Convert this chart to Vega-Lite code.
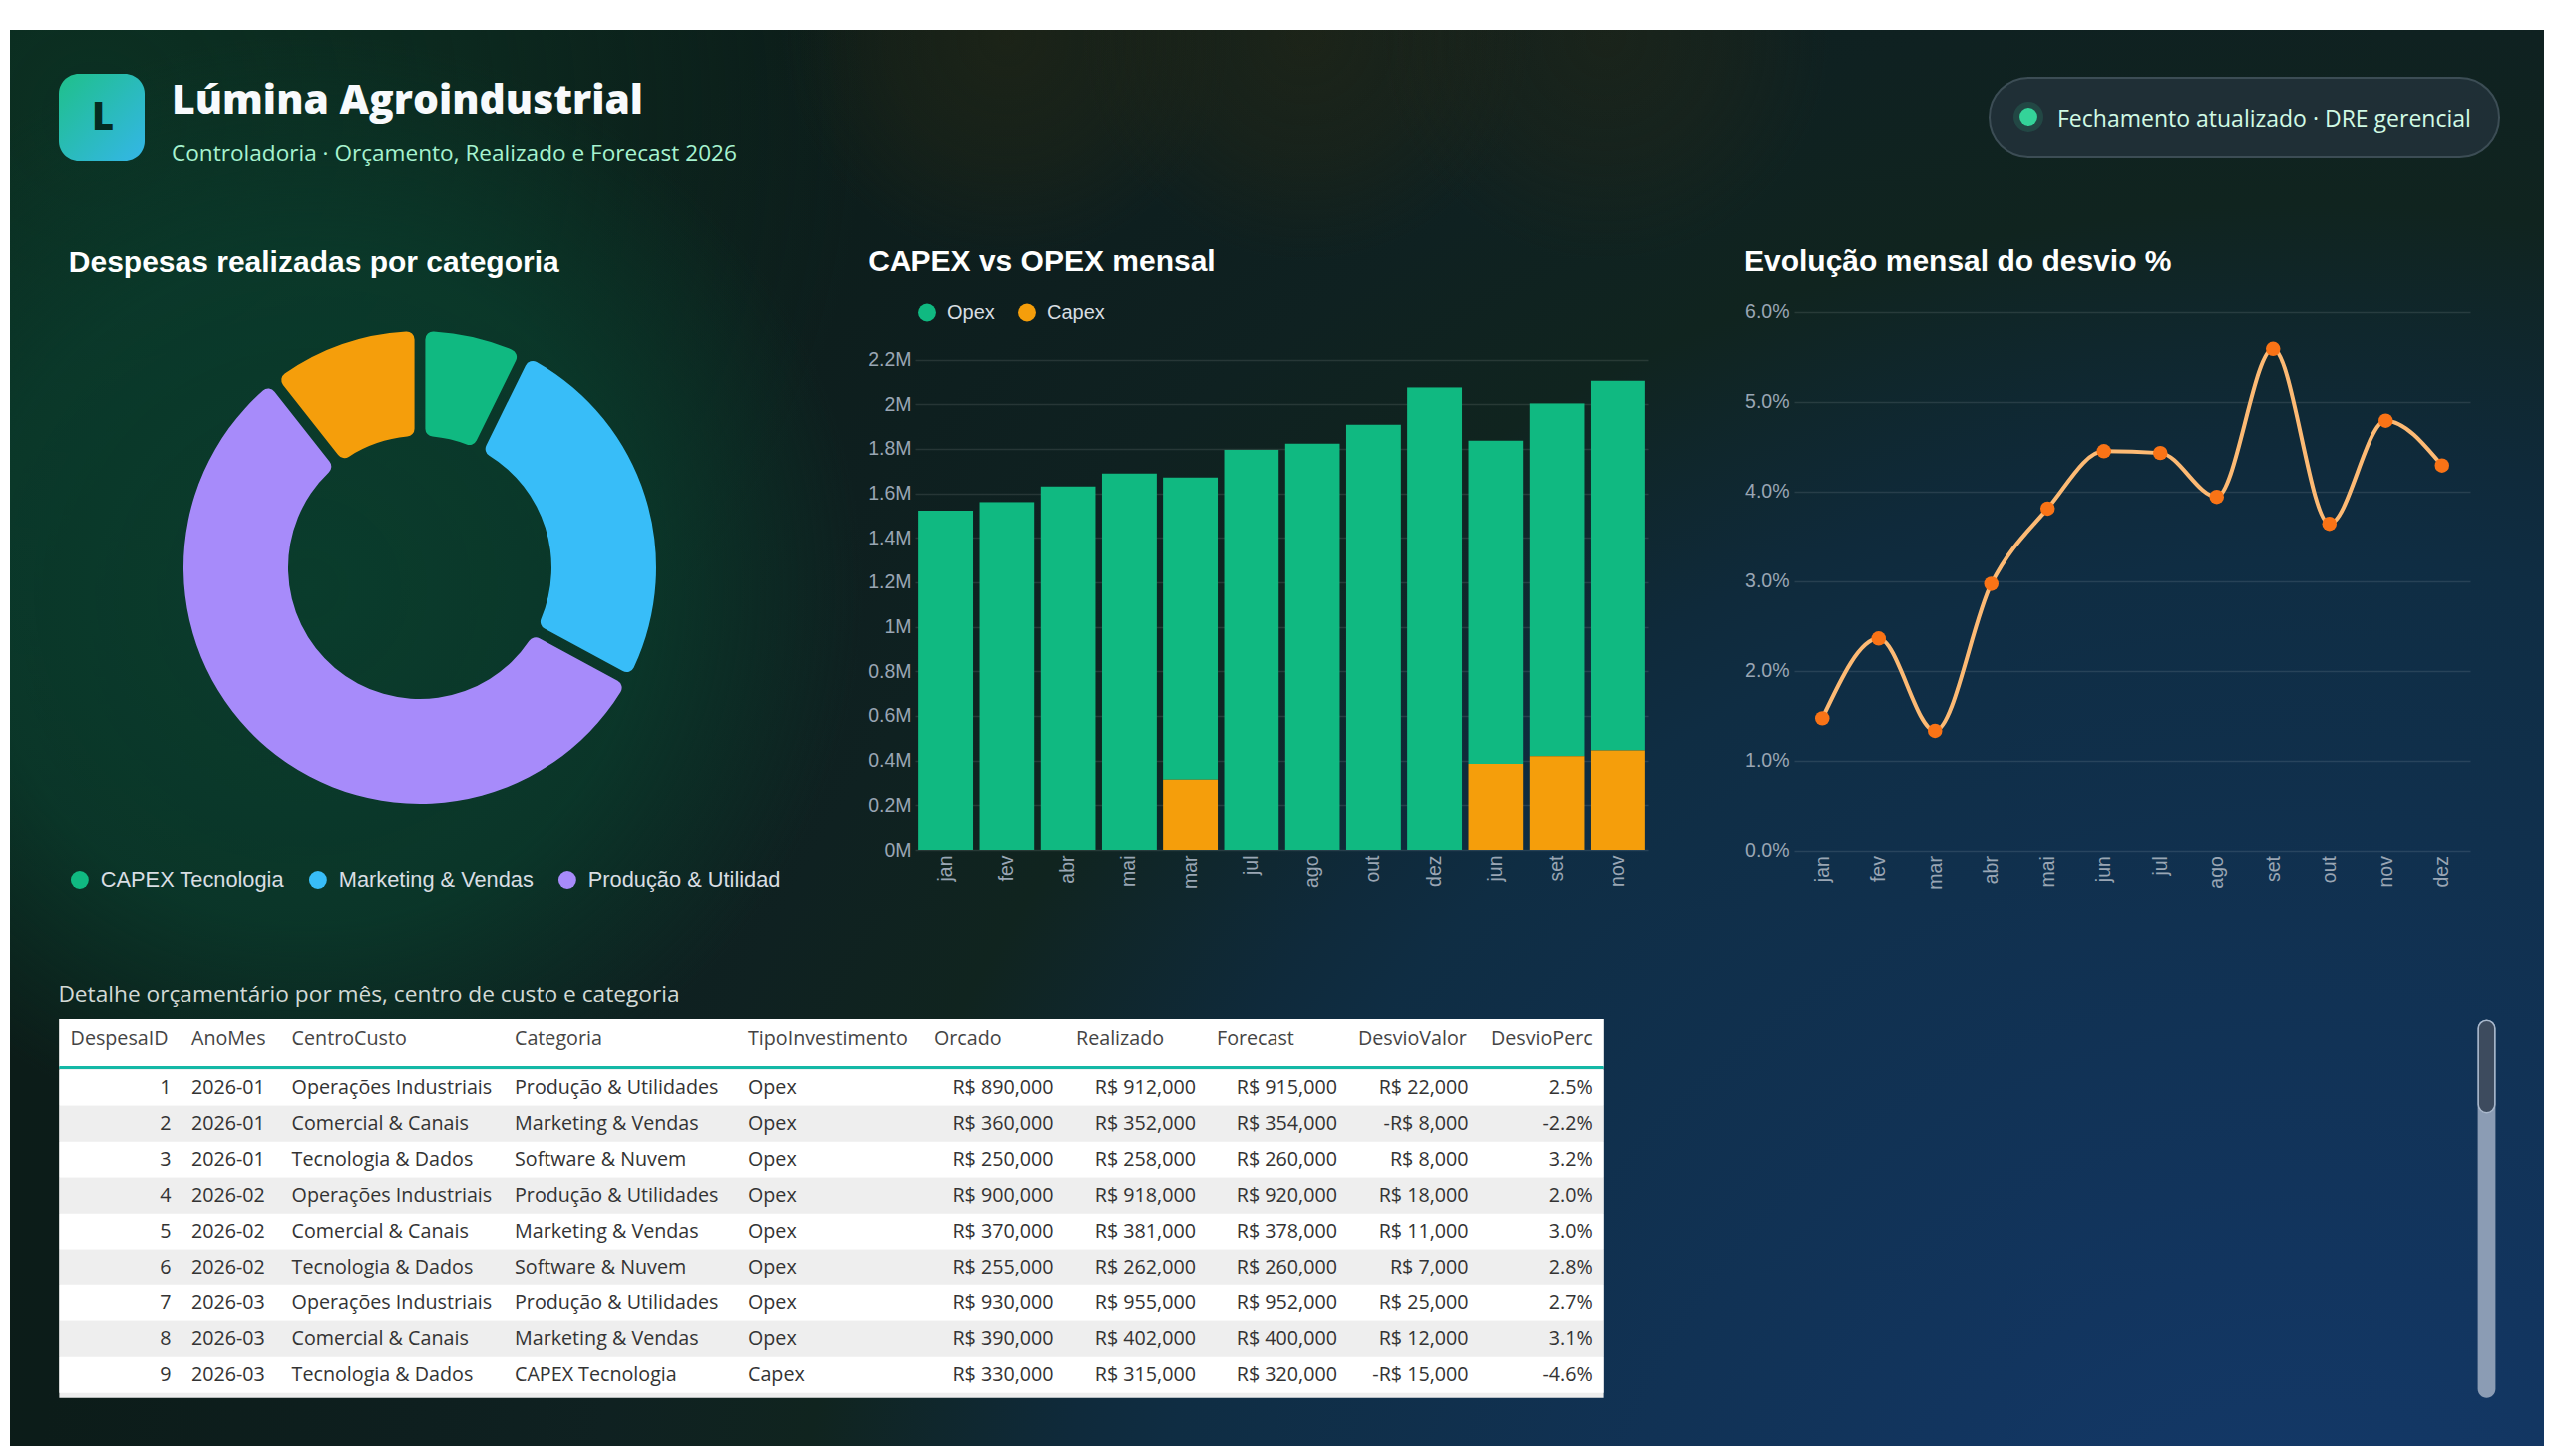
{
  "$schema": "https://vega.github.io/schema/vega-lite/v6.json",
  "width": 2541,
  "height": 1420,
  "padding": {"left": 10, "top": 30, "right": 9, "bottom": 10},
  "autosize": {"type": "none"},
  "background": "#ffffff",
  "view": {"stroke": null, "fill": {"gradient": "radial", "x1": 0.905, "y1": 0.8896, "r1": 0, "x2": 0.905, "y2": 0.8896, "r2": 1.0, "stops": [
    {"offset": 0, "color": "#153c70"},
    {"offset": 0.18, "color": "#12355f"},
    {"offset": 0.46, "color": "#0f2d43"},
    {"offset": 0.5, "color": "#0f2a3b"},
    {"offset": 0.6, "color": "#10241f"},
    {"offset": 0.68, "color": "#0f2121"},
    {"offset": 0.75, "color": "#0e1f1f"},
    {"offset": 0.9, "color": "#0c1c19"},
    {"offset": 1, "color": "#0c1c18"}]}},
  "config": {"locale": {"number": {"decimal": ".", "thousands": ",", "grouping": [3], "currency": ["R$ ", ""], "minus": "-"}}},
  "datasets": {
    "donut": [
      {"categoria": "CAPEX Tecnologia", "realizado": 1575000},
      {"categoria": "Marketing & Vendas", "realizado": 5530000},
      {"categoria": "Produção & Utilidades", "realizado": 12200000},
      {"categoria": "Software & Nuvem", "realizado": 2290000}
    ],
    "bars": [
      {"mes": "jan", "tipo": "Opex", "valor": 1522000},
      {"mes": "fev", "tipo": "Opex", "valor": 1561000},
      {"mes": "abr", "tipo": "Opex", "valor": 1632000},
      {"mes": "mai", "tipo": "Opex", "valor": 1690000},
      {"mes": "mar", "tipo": "Opex", "valor": 1357000},
      {"mes": "mar", "tipo": "Capex", "valor": 315000},
      {"mes": "jul", "tipo": "Opex", "valor": 1796000},
      {"mes": "ago", "tipo": "Opex", "valor": 1824000},
      {"mes": "out", "tipo": "Opex", "valor": 1910000},
      {"mes": "dez", "tipo": "Opex", "valor": 2076000},
      {"mes": "jun", "tipo": "Opex", "valor": 1453000},
      {"mes": "jun", "tipo": "Capex", "valor": 385000},
      {"mes": "set", "tipo": "Opex", "valor": 1585000},
      {"mes": "set", "tipo": "Capex", "valor": 420000},
      {"mes": "nov", "tipo": "Opex", "valor": 1661000},
      {"mes": "nov", "tipo": "Capex", "valor": 445000}
    ],
    "desvio": [
      {"mes": "jan", "perc": 0.0147},
      {"mes": "fev", "perc": 0.0236},
      {"mes": "mar", "perc": 0.0133},
      {"mes": "abr", "perc": 0.0297},
      {"mes": "mai", "perc": 0.0381},
      {"mes": "jun", "perc": 0.0445},
      {"mes": "jul", "perc": 0.0443},
      {"mes": "ago", "perc": 0.0394},
      {"mes": "set", "perc": 0.0559},
      {"mes": "out", "perc": 0.0364},
      {"mes": "nov", "perc": 0.0479},
      {"mes": "dez", "perc": 0.0429}
    ],
    "tabela": [
      {"DespesaID": 1, "AnoMes": "2026-01", "CentroCusto": "Operações Industriais", "Categoria": "Produção & Utilidades", "TipoInvestimento": "Opex", "Orcado": 890000, "Realizado": 912000, "Forecast": 915000, "DesvioValor": 22000, "DesvioPerc": 0.025},
      {"DespesaID": 2, "AnoMes": "2026-01", "CentroCusto": "Comercial & Canais", "Categoria": "Marketing & Vendas", "TipoInvestimento": "Opex", "Orcado": 360000, "Realizado": 352000, "Forecast": 354000, "DesvioValor": -8000, "DesvioPerc": -0.022},
      {"DespesaID": 3, "AnoMes": "2026-01", "CentroCusto": "Tecnologia & Dados", "Categoria": "Software & Nuvem", "TipoInvestimento": "Opex", "Orcado": 250000, "Realizado": 258000, "Forecast": 260000, "DesvioValor": 8000, "DesvioPerc": 0.032},
      {"DespesaID": 4, "AnoMes": "2026-02", "CentroCusto": "Operações Industriais", "Categoria": "Produção & Utilidades", "TipoInvestimento": "Opex", "Orcado": 900000, "Realizado": 918000, "Forecast": 920000, "DesvioValor": 18000, "DesvioPerc": 0.020},
      {"DespesaID": 5, "AnoMes": "2026-02", "CentroCusto": "Comercial & Canais", "Categoria": "Marketing & Vendas", "TipoInvestimento": "Opex", "Orcado": 370000, "Realizado": 381000, "Forecast": 378000, "DesvioValor": 11000, "DesvioPerc": 0.030},
      {"DespesaID": 6, "AnoMes": "2026-02", "CentroCusto": "Tecnologia & Dados", "Categoria": "Software & Nuvem", "TipoInvestimento": "Opex", "Orcado": 255000, "Realizado": 262000, "Forecast": 260000, "DesvioValor": 7000, "DesvioPerc": 0.028},
      {"DespesaID": 7, "AnoMes": "2026-03", "CentroCusto": "Operações Industriais", "Categoria": "Produção & Utilidades", "TipoInvestimento": "Opex", "Orcado": 930000, "Realizado": 955000, "Forecast": 952000, "DesvioValor": 25000, "DesvioPerc": 0.027},
      {"DespesaID": 8, "AnoMes": "2026-03", "CentroCusto": "Comercial & Canais", "Categoria": "Marketing & Vendas", "TipoInvestimento": "Opex", "Orcado": 390000, "Realizado": 402000, "Forecast": 400000, "DesvioValor": 12000, "DesvioPerc": 0.031},
      {"DespesaID": 9, "AnoMes": "2026-03", "CentroCusto": "Tecnologia & Dados", "Categoria": "CAPEX Tecnologia", "TipoInvestimento": "Capex", "Orcado": 330000, "Realizado": 315000, "Forecast": 320000, "DesvioValor": -15000, "DesvioPerc": -0.046}
    ]
  },
  "resolve": {
    "scale": {"x": "independent", "y": "independent", "color": "independent", "theta": "independent"},
    "axis": {"x": "independent", "y": "independent"},
    "legend": {"color": "independent"}
  },
  "layer": [
    {"data": {"values": [{}]}, "mark": {"type": "rect", "color": {"gradient": "radial", "x1": 0.1, "y1": 0.1, "r1": 0, "x2": 0.1, "y2": 0.1, "r2": 0.9, "stops": [
        {"offset": 0, "color": "rgba(11,52,36,0.85)"}, {"offset": 0.5, "color": "rgba(11,52,36,0.5)"}, {"offset": 1, "color": "rgba(11,52,36,0)"}]}},
     "encoding": {"x": {"value": 0}, "x2": {"value": 855}, "y": {"value": 0}, "y2": {"value": 855}}},
    {"data": {"values": [{}]}, "mark": {"type": "rect", "color": {"gradient": "radial", "x1": 0.402, "y1": 0.431, "r1": 0, "x2": 0.402, "y2": 0.431, "r2": 0.427, "stops": [
        {"offset": 0, "color": "rgba(10,60,44,1)"}, {"offset": 0.6, "color": "rgba(10,58,43,0.85)"}, {"offset": 1, "color": "rgba(10,58,43,0)"}]}},
     "encoding": {"x": {"value": 0}, "x2": {"value": 855}, "y": {"value": 0}, "y2": {"value": 1300}}},
    {"data": {"values": [{}]}, "mark": {"type": "rect", "color": {"gradient": "radial", "x1": 0.5, "y1": 0.25, "r1": 0, "x2": 0.5, "y2": 0.25, "r2": 0.5, "stops": [
        {"offset": 0, "color": "rgba(40,40,20,0.55)"}, {"offset": 0.4, "color": "rgba(40,40,20,0.35)"}, {"offset": 0.75, "color": "rgba(40,40,20,0)"}]}},
     "encoding": {"x": {"value": 700}, "x2": {"value": 1300}, "y": {"value": 0}, "y2": {"value": 315}}},
    {"data": {"values": [{}]}, "mark": {"type": "rect", "color": {"gradient": "radial", "x1": 0.5, "y1": 0.25, "r1": 0, "x2": 0.5, "y2": 0.25, "r2": 0.5, "stops": [
        {"offset": 0, "color": "rgba(40,40,20,0.55)"}, {"offset": 0.4, "color": "rgba(40,40,20,0.35)"}, {"offset": 0.75, "color": "rgba(40,40,20,0)"}]}},
     "encoding": {"x": {"value": 1000}, "x2": {"value": 1600}, "y": {"value": 0}, "y2": {"value": 315}}},
    {"data": {"values": [{}]}, "mark": {"type": "rect", "color": {"gradient": "radial", "x1": 0.5, "y1": 0.25, "r1": 0, "x2": 0.5, "y2": 0.25, "r2": 0.5, "stops": [
        {"offset": 0, "color": "rgba(40,40,20,0.45)"}, {"offset": 0.4, "color": "rgba(40,40,20,0.28)"}, {"offset": 0.75, "color": "rgba(40,40,20,0)"}]}},
     "encoding": {"x": {"value": 1300}, "x2": {"value": 1900}, "y": {"value": 0}, "y2": {"value": 315}}},
    {"data": {"values": [{}]}, "mark": {"type": "rect", "cornerRadius": 20, "color": {"gradient": "linear", "x1": 0, "y1": 0, "x2": 1, "y2": 1, "stops": [{"offset": 0, "color": "#1fc08a"}, {"offset": 1, "color": "#34b6e8"}]}},
     "encoding": {"x": {"value": 49}, "x2": {"value": 135}, "y": {"value": 44}, "y2": {"value": 131}}},
    {"data": {"values": [{}]}, "mark": {"type": "text", "text": "L", "font": "Open Sans", "fontWeight": 800, "fontSize": 38, "color": "#052b20", "align": "center", "baseline": "middle"},
     "encoding": {"x": {"value": 93}, "y": {"value": 89}}},
    {"data": {"values": [{}]}, "mark": {"type": "text", "text": "Lúmina Agroindustrial", "font": "Open Sans", "fontWeight": 800, "fontSize": 40.8, "color": "#f8fafc", "align": "left", "baseline": "alphabetic"},
     "encoding": {"x": {"value": 162}, "y": {"value": 84}}},
    {"data": {"values": [{}]}, "mark": {"type": "text", "text": "Controladoria · Orçamento, Realizado e Forecast 2026", "font": "Open Sans", "fontSize": 22.6, "color": "#a7f3d0", "align": "left", "baseline": "alphabetic"},
     "encoding": {"x": {"value": 162}, "y": {"value": 131}}},
    {"data": {"values": [{}]}, "mark": {"type": "rect", "cornerRadius": 39.5, "color": "#1f2f36", "stroke": "#3c4d55", "strokeWidth": 2},
     "encoding": {"x": {"value": 1985}, "x2": {"value": 2496}, "y": {"value": 48}, "y2": {"value": 127}}},
    {"data": {"values": [{}]}, "mark": {"type": "point", "filled": true, "size": 900, "color": "#34d399", "opacity": 0.15},
     "encoding": {"x": {"value": 2024}, "y": {"value": 87}}},
    {"data": {"values": [{}]}, "mark": {"type": "point", "filled": true, "size": 320, "color": "#34d399", "opacity": 1},
     "encoding": {"x": {"value": 2024}, "y": {"value": 87}}},
    {"data": {"values": [{}]}, "mark": {"type": "text", "text": "Fechamento atualizado · DRE gerencial", "font": "Open Sans", "fontSize": 23, "color": "#d1fae5", "align": "left", "baseline": "middle"},
     "encoding": {"x": {"value": 2053}, "y": {"value": 90}}},
    {"data": {"values": [{}]}, "mark": {"type": "text", "text": "Despesas realizadas por categoria", "font": "Liberation Sans", "fontWeight": "bold", "fontSize": 30, "color": "#ffffff", "align": "left", "baseline": "alphabetic"},
     "encoding": {"x": {"value": 58.8}, "y": {"value": 242.5}}},
    {"data": {"values": [{}]}, "mark": {"type": "text", "text": "CAPEX vs OPEX mensal", "font": "Liberation Sans", "fontWeight": "bold", "fontSize": 30, "color": "#ffffff", "align": "left", "baseline": "alphabetic"},
     "encoding": {"x": {"value": 860.2}, "y": {"value": 242.2}}},
    {"data": {"values": [{}]}, "mark": {"type": "text", "text": "Evolução mensal do desvio %", "font": "Liberation Sans", "fontWeight": "bold", "fontSize": 30, "color": "#ffffff", "align": "left", "baseline": "alphabetic"},
     "encoding": {"x": {"value": 1739}, "y": {"value": 242.2}}},
    {"data": {"name": "donut"},
     "mark": {"type": "arc", "radius": 237, "innerRadius": 132, "padAngle": 0.04, "cornerRadius": 8},
     "encoding": {
       "theta": {"field": "realizado", "type": "quantitative", "stack": true},
       "color": {"field": "categoria", "type": "nominal",
         "scale": {"domain": ["CAPEX Tecnologia", "Marketing & Vendas", "Produção & Utilidades", "Software & Nuvem"], "range": ["#10b981", "#38bdf8", "#a78bfa", "#f59e0b"]},
         "legend": {"title": null, "orient": "none", "legendX": 59, "legendY": 841, "direction": "horizontal",
           "values": ["CAPEX Tecnologia", "Marketing & Vendas", "Produção & Utilidades"],
           "labelExpr": "datum.label == 'Produção & Utilidades' ? 'Produção & Utilidad' : datum.label",
           "symbolType": "circle", "symbolSize": 320, "symbolStrokeWidth": 0,
           "labelFont": "Liberation Sans", "labelFontSize": 21.8, "labelColor": "#d9dee3", "columnPadding": 23, "labelOffset": 10, "labelLimit": 400}},
       "x": {"value": 411}, "y": {"value": 539}
     }},
    {"data": {"name": "bars"},
     "mark": {"type": "bar", "cornerRadiusTopLeft": {"expr": "datum.tipo == 'Opex' ? 5 : 0"}, "cornerRadiusTopRight": {"expr": "datum.tipo == 'Opex' ? 5 : 0"}},
     "encoding": {
       "x": {"field": "mes", "type": "nominal", "sort": ["jan", "fev", "abr", "mai", "mar", "jul", "ago", "out", "dez", "jun", "set", "nov"],
         "scale": {"type": "band", "range": [908, 1643], "paddingInner": 0.1, "paddingOuter": 0.05},
         "axis": {"orient": "bottom", "offset": -598, "title": null, "labelAngle": -90, "domain": false, "ticks": false, "grid": false, "labelPadding": 5,
           "labelFont": "Liberation Sans", "labelFontSize": 19.5, "labelColor": "#9aa6b4"}},
       "y": {"field": "valor", "type": "quantitative", "stack": "zero",
         "scale": {"domain": [0, 2200000], "range": [822, 330.6], "nice": false, "zero": true},
         "axis": {"orient": "left", "offset": -908, "title": null, "domain": false, "ticks": false, "grid": true, "gridColor": "#ffffff", "gridOpacity": 0.1, "gridWidth": 1.5,
           "values": [0, 200000, 400000, 600000, 800000, 1000000, 1200000, 1400000, 1600000, 1800000, 2000000, 2200000],
           "labelExpr": "datum.value / 1000000 + 'M'", "labelPadding": 5,
           "labelFont": "Liberation Sans", "labelFontSize": 19.5, "labelColor": "#9aa6b4"}},
       "color": {"field": "tipo", "type": "nominal",
         "scale": {"domain": ["Opex", "Capex"], "range": ["#10b981", "#f59e0b"]},
         "legend": {"title": null, "orient": "none", "legendX": 910, "legendY": 273.5, "direction": "horizontal",
           "symbolType": "circle", "symbolSize": 320, "symbolStrokeWidth": 0,
           "labelFont": "Liberation Sans", "labelFontSize": 20, "labelColor": "#d9dee3", "columnPadding": 22, "labelOffset": 10}},
       "order": {"field": "tipo", "type": "nominal", "sort": "ascending"}
     }},
    {"data": {"name": "desvio"},
     "encoding": {
       "x": {"field": "mes", "type": "nominal", "sort": ["jan", "fev", "mar", "abr", "mai", "jun", "jul", "ago", "set", "out", "nov", "dez"],
         "scale": {"type": "point", "range": [1789, 2467], "padding": 0.5},
         "axis": {"orient": "bottom", "offset": -597.4, "title": null, "labelAngle": -90, "domain": false, "ticks": false, "grid": false, "labelPadding": 5,
           "labelFont": "Liberation Sans", "labelFontSize": 19.5, "labelColor": "#9aa6b4"}},
       "y": {"field": "perc", "type": "quantitative",
         "scale": {"domain": [0, 0.06], "range": [822.6, 282.9], "nice": false, "zero": true},
         "axis": {"orient": "left", "offset": -1789, "title": null, "domain": false, "ticks": false, "grid": true, "gridColor": "#ffffff", "gridOpacity": 0.1, "gridWidth": 1.5,
           "values": [0, 0.01, 0.02, 0.03, 0.04, 0.05, 0.06], "format": ".1%", "labelPadding": 5,
           "labelFont": "Liberation Sans", "labelFontSize": 19.5, "labelColor": "#9aa6b4"}}
     },
     "layer": [
       {"mark": {"type": "line", "interpolate": "monotone", "color": "#fdba74", "strokeWidth": 4}},
       {"mark": {"type": "point", "filled": true, "color": "#f97316", "size": 210, "opacity": 1}}
     ]},
    {"data": {"values": [{}]}, "mark": {"type": "text", "text": "Detalhe orçamentário por mês, centro de custo e categoria", "font": "Open Sans", "fontSize": 22.7, "color": "#d3dad6", "align": "left", "baseline": "alphabetic"},
     "encoding": {"x": {"value": 48.4}, "y": {"value": 975}}},
    {"data": {"name": "tabela"},
     "encoding": {"y": {"field": "DespesaID", "type": "ordinal", "scale": {"range": [1042.7, 1366.7], "paddingInner": 0, "paddingOuter": 0}, "axis": null}},
     "layer": [
       {"data": {"values": [{}]}, "mark": {"type": "rect", "color": "#eeeeee"},
        "encoding": {"x": {"value": 49.4}, "x2": {"value": 1597.6}, "y": {"value": 992}, "y2": {"value": 1371.7}}},
       {"data": {"values": [{}]}, "mark": {"type": "rect", "color": "#ffffff"},
        "encoding": {"x": {"value": 49.4}, "x2": {"value": 1597.6}, "y": {"value": 992}, "y2": {"value": 1040}}},
       {"mark": {"type": "rect"},
        "encoding": {"x": {"value": 49.4}, "x2": {"value": 1597.6},
          "color": {"condition": {"test": "datum.DespesaID % 2 == 1", "value": "#ffffff"}, "value": "#eeeeee"}}},
       {"data": {"values": [{}]}, "mark": {"type": "rule", "color": "#14b8a6", "strokeWidth": 3},
        "encoding": {"x": {"value": 49.4}, "x2": {"value": 1597.6}, "y": {"value": 1040.5}}},
       {"data": {"values": [{}]}, "mark": {"type": "text", "text": "DespesaID", "font": "Open Sans", "fontSize": 19.7, "color": "#444444", "align": "left", "baseline": "middle"}, "encoding": {"x": {"value": 60.6}, "y": {"value": 1011.7}}},
       {"data": {"values": [{}]}, "mark": {"type": "text", "text": "AnoMes", "font": "Open Sans", "fontSize": 19.7, "color": "#444444", "align": "left", "baseline": "middle"}, "encoding": {"x": {"value": 182}, "y": {"value": 1011.7}}},
       {"data": {"values": [{}]}, "mark": {"type": "text", "text": "CentroCusto", "font": "Open Sans", "fontSize": 19.7, "color": "#444444", "align": "left", "baseline": "middle"}, "encoding": {"x": {"value": 282.6}, "y": {"value": 1011.7}}},
       {"data": {"values": [{}]}, "mark": {"type": "text", "text": "Categoria", "font": "Open Sans", "fontSize": 19.7, "color": "#444444", "align": "left", "baseline": "middle"}, "encoding": {"x": {"value": 506}, "y": {"value": 1011.7}}},
       {"data": {"values": [{}]}, "mark": {"type": "text", "text": "TipoInvestimento", "font": "Open Sans", "fontSize": 19.7, "color": "#444444", "align": "left", "baseline": "middle"}, "encoding": {"x": {"value": 740}, "y": {"value": 1011.7}}},
       {"data": {"values": [{}]}, "mark": {"type": "text", "text": "Orcado", "font": "Open Sans", "fontSize": 19.7, "color": "#444444", "align": "left", "baseline": "middle"}, "encoding": {"x": {"value": 927}, "y": {"value": 1011.7}}},
       {"data": {"values": [{}]}, "mark": {"type": "text", "text": "Realizado", "font": "Open Sans", "fontSize": 19.7, "color": "#444444", "align": "left", "baseline": "middle"}, "encoding": {"x": {"value": 1069}, "y": {"value": 1011.7}}},
       {"data": {"values": [{}]}, "mark": {"type": "text", "text": "Forecast", "font": "Open Sans", "fontSize": 19.7, "color": "#444444", "align": "left", "baseline": "middle"}, "encoding": {"x": {"value": 1210}, "y": {"value": 1011.7}}},
       {"data": {"values": [{}]}, "mark": {"type": "text", "text": "DesvioValor", "font": "Open Sans", "fontSize": 19.7, "color": "#444444", "align": "left", "baseline": "middle"}, "encoding": {"x": {"value": 1352}, "y": {"value": 1011.7}}},
       {"data": {"values": [{}]}, "mark": {"type": "text", "text": "DesvioPerc", "font": "Open Sans", "fontSize": 19.7, "color": "#444444", "align": "left", "baseline": "middle"}, "encoding": {"x": {"value": 1485}, "y": {"value": 1011.7}}},
       {"mark": {"type": "text", "font": "Open Sans", "fontSize": 19.7, "color": "#333333", "align": "right", "baseline": "middle"}, "encoding": {"x": {"value": 161.6}, "text": {"field": "DespesaID", "type": "nominal"}}},
       {"mark": {"type": "text", "font": "Open Sans", "fontSize": 19.7, "color": "#333333", "align": "left", "baseline": "middle"}, "encoding": {"x": {"value": 182}, "text": {"field": "AnoMes", "type": "nominal"}}},
       {"mark": {"type": "text", "font": "Open Sans", "fontSize": 19.7, "color": "#333333", "align": "left", "baseline": "middle"}, "encoding": {"x": {"value": 282.6}, "text": {"field": "CentroCusto", "type": "nominal"}}},
       {"mark": {"type": "text", "font": "Open Sans", "fontSize": 19.7, "color": "#333333", "align": "left", "baseline": "middle"}, "encoding": {"x": {"value": 506}, "text": {"field": "Categoria", "type": "nominal"}}},
       {"mark": {"type": "text", "font": "Open Sans", "fontSize": 19.7, "color": "#333333", "align": "left", "baseline": "middle"}, "encoding": {"x": {"value": 740}, "text": {"field": "TipoInvestimento", "type": "nominal"}}},
       {"mark": {"type": "text", "font": "Open Sans", "fontSize": 19.7, "color": "#333333", "align": "right", "baseline": "middle"}, "encoding": {"x": {"value": 1046.6}, "text": {"field": "Orcado", "type": "quantitative", "format": "$,.0f"}}},
       {"mark": {"type": "text", "font": "Open Sans", "fontSize": 19.7, "color": "#333333", "align": "right", "baseline": "middle"}, "encoding": {"x": {"value": 1189}, "text": {"field": "Realizado", "type": "quantitative", "format": "$,.0f"}}},
       {"mark": {"type": "text", "font": "Open Sans", "fontSize": 19.7, "color": "#333333", "align": "right", "baseline": "middle"}, "encoding": {"x": {"value": 1331}, "text": {"field": "Forecast", "type": "quantitative", "format": "$,.0f"}}},
       {"mark": {"type": "text", "font": "Open Sans", "fontSize": 19.7, "color": "#333333", "align": "right", "baseline": "middle"}, "encoding": {"x": {"value": 1462.6}, "text": {"field": "DesvioValor", "type": "quantitative", "format": "$,.0f"}}},
       {"mark": {"type": "text", "font": "Open Sans", "fontSize": 19.7, "color": "#333333", "align": "right", "baseline": "middle"}, "encoding": {"x": {"value": 1586.7}, "text": {"field": "DesvioPerc", "type": "quantitative", "format": ".1%"}}}
     ]},
    {"data": {"values": [{}]}, "mark": {"type": "rect", "cornerRadius": 9, "color": "#8b9cb4"},
     "encoding": {"x": {"value": 2474.6}, "x2": {"value": 2492.4}, "y": {"value": 992.7}, "y2": {"value": 1371.7}}},
    {"data": {"values": [{}]}, "mark": {"type": "rect", "cornerRadius": 9, "color": "#3d4b5e", "stroke": "#a9b8cc", "strokeWidth": 1.5},
     "encoding": {"x": {"value": 2475.2}, "x2": {"value": 2491.8}, "y": {"value": 993.2}, "y2": {"value": 1085.7}}}
  ]
}
